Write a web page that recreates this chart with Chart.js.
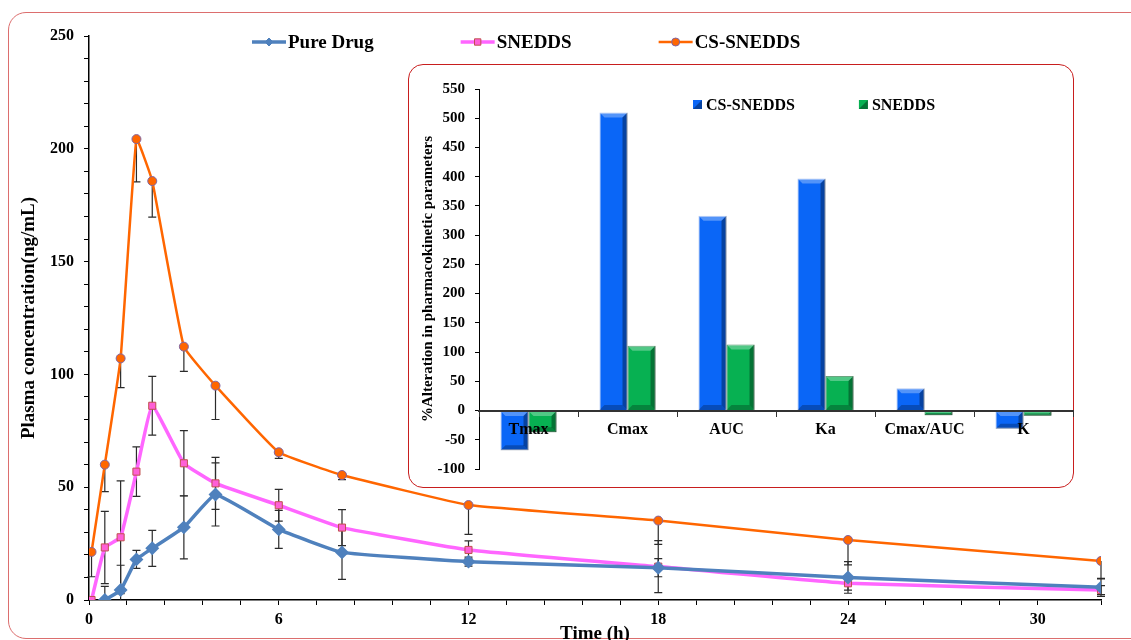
<!DOCTYPE html>
<html>
<head>
<meta charset="utf-8">
<script src="https://cdn.jsdelivr.net/npm/chart.js@4.4.1/dist/chart.umd.min.js"></script>
<style>
  body { margin: 0; width: 1131px; height: 640px; overflow: hidden; background: #fff; position: relative; }
  .frame { position: absolute; left: 8px; top: 12px; width: 1150px; height: 627px; border: 1.5px solid #dc6e6e; border-radius: 18px; box-sizing: border-box; }
  #main { position: absolute; left: 0; top: 0; }
  .inset { position: absolute; left: 408px; top: 64px; width: 666px; height: 424px; border: 1.5px solid #c81e1e; border-radius: 15px; background: #fff; box-sizing: border-box; }
  #inset { position: absolute; left: 408px; top: 64px; }
</style>
</head>
<body>
<div class="frame"></div>
<canvas id="main" width="1131" height="660"></canvas>
<div class="inset"></div>
<canvas id="inset" width="666" height="424"></canvas>
<script>
// sampling times (h)
const times = [0.08, 0.5, 1, 1.5, 2, 3, 4, 6, 8, 12, 18, 24, 32];
// plasma concentration (ng/mL) and SD
const pureDrug   = [null, 0, 4.4, 18, 22.9, 32.2, 46.8, 31.3, 21.1, 17, 14.3, 10, 5.6];
const pureDrugSd = [null, 6, 11, 4, 8, 14, 14, 8.4, 12, 2, 4, 7, 4];
const snedds     = [0, 23.3, 27.8, 56.9, 86.1, 60.6, 51.7, 42, 32.1, 22.2, 14.8, 7.4, 4.4];
const sneddsSd   = [0, 16, 25, 11, 13, 14.5, 11.5, 7, 8, 4, 11.5, 3, 2];
const csSnedds   = [21.3, 60, 107.1, 204.3, 185.7, 112.3, 95, 65.5, 55.4, 42.1, 35.2, 26.6, 17.3];
const csSneddsSd = [11, 12, 13, 19, 16, 11, 15, 2.7, 2, 13, 10.5, 11, 8];
const xMajorEvery = 6;

// inset: % alteration in PK parameters
const params = ['Tmax', 'Cmax', 'AUC', 'Ka', 'Cmax/AUC', 'K'];
const csChange = [-68, 510, 333, 397, 38, -31];
const sneddsChange = [-37, 111, 113, 59, -8, -9];

const FONT = "'Liberation Serif', 'Times New Roman', serif";

const pts = vals => times.map((t, i) => ({ x: t, y: vals[i] }));

// draws SD bars from dataset.errors
const errorBars = {
  id: 'errorBars',
  beforeDatasetsDraw(chart) {
    const { ctx, chartArea: a, scales: { x, y } } = chart;
    ctx.save();
    ctx.beginPath();
    ctx.rect(a.left - 10, a.top, a.right - a.left + 20, a.bottom - a.top);
    ctx.clip();
    ctx.strokeStyle = '#2b2b2b';
    ctx.lineWidth = 1.2;
    chart.data.datasets.forEach(ds => {
      if (!ds.errors) return;
      ds.data.forEach((p, j) => {
        const e = ds.errors[j];
        if (p.y == null || !e) return;
        const px = x.getPixelForValue(p.x);
        const hi = y.getPixelForValue(ds.errorMode === 'minus' ? p.y : p.y + e);
        const lo = y.getPixelForValue(p.y - e);
        ctx.beginPath();
        ctx.moveTo(px, hi); ctx.lineTo(px, lo);
        ctx.moveTo(px - 4, lo); ctx.lineTo(px + 4, lo);
        if (ds.errorMode !== 'minus') { ctx.moveTo(px - 4, hi); ctx.lineTo(px + 4, hi); }
        ctx.stroke();
      });
    });
    ctx.restore();
  }
};

// legend placed freely inside the plot
const freeLegend = {
  id: 'freeLegend',
  afterDraw(chart, args, opts) {
    const { ctx } = chart;
    let x = opts.x;
    ctx.save();
    ctx.font = opts.font;
    ctx.textBaseline = 'middle';
    chart.data.datasets.forEach(ds => {
      if (opts.marker === 'line') {
        ctx.strokeStyle = ds.borderColor;
        ctx.lineWidth = ds.borderWidth;
        ctx.beginPath(); ctx.moveTo(x, opts.y); ctx.lineTo(x + 34, opts.y); ctx.stroke();
        ctx.fillStyle = ds.pointBackgroundColor;
        ctx.strokeStyle = ds.pointBorderColor;
        ctx.lineWidth = 1;
        Chart.helpers.drawPoint(ctx, { pointStyle: ds.pointStyle, radius: ds.pointRadius - 0.5, borderWidth: 1, rotation: 0 }, x + 17, opts.y);
        x += 36;
      } else {
        ctx.fillStyle = ds.backgroundColor;
        ctx.fillRect(x, opts.y - 5, 9, 9);
        ctx.fillStyle = 'rgba(0,0,0,0.35)';
        ctx.beginPath(); ctx.moveTo(x + 9, opts.y - 5); ctx.lineTo(x + 9, opts.y + 4); ctx.lineTo(x, opts.y + 4); ctx.closePath(); ctx.fill();
        x += 13;
      }
      ctx.fillStyle = '#000';
      ctx.fillText(ds.label, x, opts.y + 1);
      x += ctx.measureText(ds.label).width + opts.gap;
    });
    ctx.restore();
  }
};

// bevel shading on the inset bars
const bevel = {
  id: 'bevel',
  afterDatasetsDraw(chart) {
    const { ctx } = chart;
    ctx.save();
    chart.data.datasets.forEach((ds, i) => {
      chart.getDatasetMeta(i).data.forEach(bar => {
        const { x, y, base, width } = bar.getProps(['x', 'y', 'base', 'width'], true);
        const l = x - width / 2, r = x + width / 2;
        const t = Math.min(y, base), b = Math.max(y, base);
        const h = b - t;
        const d = Math.min(5, h / 2);
        ctx.fillStyle = 'rgba(255,255,255,0.3)';
        ctx.beginPath(); ctx.moveTo(l, t); ctx.lineTo(r, t); ctx.lineTo(r - d, t + d); ctx.lineTo(l + d, t + d); ctx.closePath(); ctx.fill();
        ctx.fillStyle = 'rgba(0,0,0,0.35)';
        ctx.beginPath(); ctx.moveTo(r, t); ctx.lineTo(r, b); ctx.lineTo(r - d, b - d); ctx.lineTo(r - d, t + d); ctx.closePath(); ctx.fill();
        ctx.fillStyle = 'rgba(0,0,0,0.25)';
        ctx.beginPath(); ctx.moveTo(l, b); ctx.lineTo(r, b); ctx.lineTo(r - d, b - d); ctx.lineTo(l + d, b - d); ctx.closePath(); ctx.fill();
      });
    });
    ctx.restore();
  }
};

const tickFont = { family: FONT, size: 16, weight: 'bold' };

new Chart(document.getElementById('main'), {
  type: 'line',
  data: {
    datasets: [
      {
        label: 'Pure Drug', data: pts(pureDrug), errors: pureDrugSd, errorMode: 'both',
        borderColor: '#4f81bd', borderWidth: 3.5, pointStyle: 'rectRot', pointRadius: 4.5,
        pointBackgroundColor: '#4f81bd', pointBorderColor: '#4f81bd', tension: 0.1
      },
      {
        label: 'SNEDDS', data: pts(snedds), errors: sneddsSd, errorMode: 'both',
        borderColor: '#ff66ff', borderWidth: 3.5, pointStyle: 'rect', pointRadius: 5,
        pointBackgroundColor: '#ff5fd7', pointBorderColor: '#c0504d', pointBorderWidth: 1, tension: 0.1
      },
      {
        label: 'CS-SNEDDS', data: pts(csSnedds), errors: csSneddsSd, errorMode: 'minus',
        borderColor: '#ff6600', borderWidth: 2.5, pointStyle: 'circle', pointRadius: 4.5,
        pointBackgroundColor: '#ff6600', pointBorderColor: '#8064a2', pointBorderWidth: 1, tension: 0.1
      }
    ]
  },
  options: {
    responsive: false,
    animation: false,
    layout: { padding: { left: 0, top: 36, right: 30, bottom: 0 } },
    plugins: {
      legend: { display: false },
      tooltip: { enabled: false },
      freeLegend: { x: 252, y: 42, gap: 87, marker: 'line', font: "bold 19px " + FONT }
    },
    scales: {
      x: {
        type: 'linear', min: 0, max: 32,
        afterFit: s => { s.height = 60; },
        ticks: {
          stepSize: 1.2, autoSkip: false, maxRotation: 0, padding: 5, color: '#000', font: tickFont,
          callback: v => { const r = Math.round(v * 10) / 10; return r % xMajorEvery === 0 ? r : ''; }
        },
        grid: { drawOnChartArea: false, tickLength: 5, color: '#000' },
        border: { color: '#000', width: 1.5 },
        title: { display: true, text: 'Time (h)', color: '#000', font: { family: FONT, size: 19, weight: 'bold' }, padding: { top: 0, bottom: 15 } }
      },
      y: {
        min: 0, max: 250,
        afterFit: s => { s.width = 89; },
        ticks: { stepSize: 10, padding: 10, color: '#000', font: tickFont, callback: v => v % 50 === 0 ? v : '' },
        grid: { drawOnChartArea: false, tickLength: 5, color: '#000' },
        border: { color: '#000', width: 1.5 },
        title: { display: true, text: 'Plasma concentration(ng/mL)', color: '#000', font: { family: FONT, size: 19, weight: 'bold' }, padding: { top: 18, bottom: 0 } }
      }
    }
  },
  plugins: [errorBars, freeLegend]
});

new Chart(document.getElementById('inset'), {
  type: 'bar',
  data: {
    labels: params,
    datasets: [
      { label: 'CS-SNEDDS', data: csChange, backgroundColor: '#0a66f7', borderColor: '#9ab8ee', borderWidth: 1 },
      { label: 'SNEDDS', data: sneddsChange, backgroundColor: '#07b152', borderColor: '#2d7d4a', borderWidth: 1 }
    ]
  },
  options: {
    responsive: false,
    animation: false,
    layout: { padding: { left: 0, top: 25, right: 1, bottom: 18 } },
    datasets: { bar: { categoryPercentage: 0.566, barPercentage: 1 } },
    plugins: {
      legend: { display: false },
      tooltip: { enabled: false },
      freeLegend: { x: 285, y: 41, gap: 64, marker: 'box', font: "bold 16px " + FONT }
    },
    scales: {
      x: {
        position: { y: 0 },
        z: 1,
        ticks: { z: 1, color: '#000', padding: 5, font: { family: FONT, size: 16, weight: 'bold' } },
        grid: { z: 1, drawOnChartArea: false, tickLength: 5, color: '#333', offset: true },
        border: { z: 1, color: '#333', width: 2 }
      },
      y: {
        min: -100, max: 550,
        afterFit: s => { s.width = 71; },
        ticks: { stepSize: 50, padding: 10, color: '#000', font: { family: FONT, size: 15, weight: 'bold' } },
        grid: { drawOnChartArea: false, tickLength: 4, color: '#000' },
        border: { color: '#000', width: 1 },
        title: { display: true, text: '%Alteration in pharmacokinetic parameters', color: '#000', font: { family: FONT, size: 15, weight: 'bold' }, padding: { top: 11, bottom: 0 } }
      }
    }
  },
  plugins: [bevel, freeLegend]
});
</script>
</body>
</html>
